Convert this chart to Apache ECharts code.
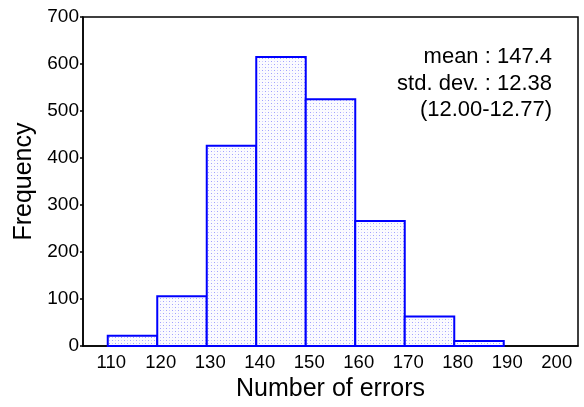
<!DOCTYPE html>
<html>
<head>
<meta charset="utf-8">
<script src="https://cdn.jsdelivr.net/npm/echarts@6/dist/echarts.min.js"></script>
<style>html,body{margin:0;padding:0;background:#fff;}#c{width:584px;height:407px;}</style>
</head>
<body>
<div id="c"></div>
<script>
var binStarts = [110, 120, 130, 140, 150, 160, 170, 180, 190];
var binWidth = 10;
var counts = [22, 106, 426, 615, 525, 266, 63, 11, 0];
var xTicks = [110, 120, 130, 140, 150, 160, 170, 180, 190, 200];
var yTicks = [0, 100, 200, 300, 400, 500, 600, 700];
var statsLines = ['mean : 147.4', 'std. dev. : 12.38', '(12.00-12.77)'];

var tile = document.createElement('canvas');
tile.width = 6; tile.height = 6;
var tc = tile.getContext('2d');
tc.fillStyle = '#fbfbff'; tc.fillRect(0, 0, 6, 6);
tc.fillStyle = '#a0a0ff'; tc.fillRect(1, 1, 1, 1); tc.fillRect(4, 4, 1, 1);
tc.fillStyle = '#cfcfff'; tc.fillRect(4, 1, 1, 1); tc.fillRect(1, 4, 1, 1);

var data = binStarts.map(function (s, i) { return [s, s + binWidth, counts[i]]; }).filter(function (d) { return d[2] > 0; });

var font = '"Liberation Sans", Arial, Helvetica, sans-serif';
var chart = echarts.init(document.getElementById('c'), null, { renderer: 'canvas' });
chart.setOption({
  animation: false,
  grid: { left: 83, right: 6, top: 17, bottom: 57, show: true, borderColor: '#000', borderWidth: 1.5, backgroundColor: 'transparent' },
  xAxis: {
    type: 'value', min: 105, max: 205, interval: 5,
    axisLine: { show: true, lineStyle: { color: '#000', width: 1.5 } },
    axisTick: { show: false },
    splitLine: { show: false },
    axisLabel: {
      color: '#000', fontSize: 18.5, fontFamily: font, margin: 7, padding: [0, 0, 0, 7],
      formatter: function (v) { return xTicks.indexOf(v) >= 0 ? String(v) : ''; }
    },
    name: 'Number of errors', nameLocation: 'middle', nameGap: 28,
    nameTextStyle: { color: '#000', fontSize: 25, fontFamily: font }
  },
  yAxis: {
    type: 'value', min: 0, max: 700, interval: 100,
    axisLine: { show: true, lineStyle: { color: '#000', width: 1.5 } },
    axisTick: { show: true, inside: false, length: 3, lineStyle: { color: '#000', width: 1.5 } },
    splitLine: { show: false },
    axisLabel: {
      color: '#000', fontSize: 19, fontFamily: font, margin: 4,
      formatter: function (v) { return yTicks.indexOf(v) >= 0 ? String(v) : ''; }
    },
    name: 'Frequency', nameLocation: 'middle', nameGap: 44,
    nameTextStyle: { color: '#000', fontSize: 25, fontFamily: font }
  },
  series: [{
    type: 'custom',
    data: data,
    renderItem: function (params, api) {
      var p0 = api.coord([api.value(0), api.value(2)]);
      var p1 = api.coord([api.value(1), 0]);
      return {
        type: 'rect',
        shape: { x: p0[0], y: p0[1], width: p1[0] - p0[0], height: p1[1] - p0[1] },
        style: { fill: { image: tile, repeat: 'repeat' }, stroke: '#0000ff', lineWidth: 2 }
      };
    }
  }],
  graphic: statsLines.map(function (t, i) {
    return {
      type: 'text', right: 32, top: 46 + i * 26.5,
      style: { text: t, fill: '#000', font: '22px ' + font, textAlign: 'right' }
    };
  })
});
</script>
</body>
</html>
